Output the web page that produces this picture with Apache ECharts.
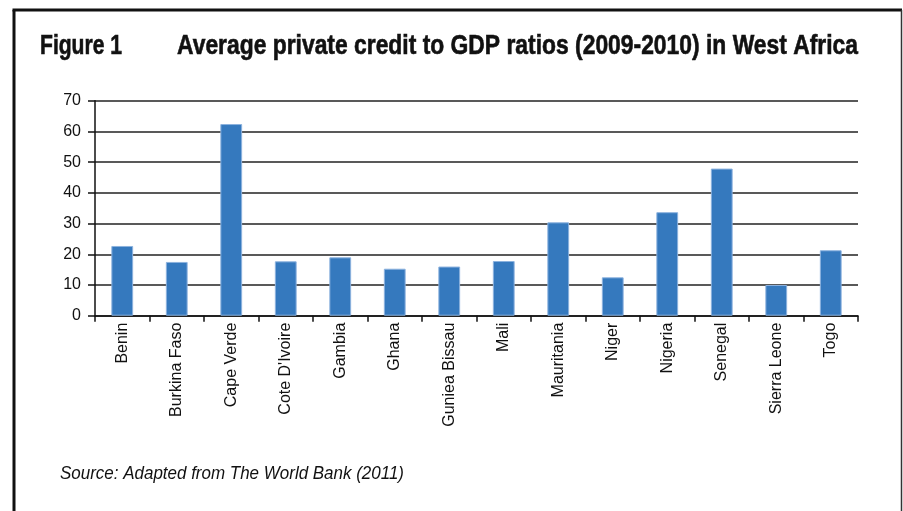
<!DOCTYPE html>
<html>
<head>
<meta charset="utf-8">
<script src="https://cdn.jsdelivr.net/npm/echarts@6/dist/echarts.min.js"></script>
<style>
  html, body { margin: 0; padding: 0; background: #fff; }
  #chart { width: 903px; height: 511px; }
</style>
</head>
<body>
<div id="chart"></div>
<script>
// countries along the x axis
var countries = ["Benin", "Burkina Faso", "Cape Verde", "Cote D'Ivoire", "Gambia", "Ghana",
  "Guniea Bissau", "Mali", "Mauritania", "Niger", "Nigeria", "Senegal", "Sierra Leone", "Togo"];
// private credit to GDP (%)
var creditRatio = [22.7, 17.5, 62.4, 17.7, 19.0, 15.3, 16.0, 17.8, 30.4, 12.5, 33.7, 47.9, 10.0, 21.3];
var yTicks = [0, 10, 20, 30, 40, 50, 60, 70];

var figLabel = "Figure 1";
var figTitle = "Average private credit to GDP ratios (2009-2010) in West Africa";
var sourceNote = "Source: Adapted from The World Bank (2011)";

// the original uses a condensed face; squeeze Liberation Sans to the same width
var ctx = document.createElement("canvas").getContext("2d");
function squeeze(text, font, target) {
  ctx.font = font;
  return target / ctx.measureText(text).width;
}
var titleFont = "bold 27px 'Liberation Sans'";
var noteFont = "italic 18px 'Liberation Sans'";

function condensedText(text, font, x, y, width, stroke) {
  return {
    type: "text",
    x: x,
    y: y,
    scaleX: squeeze(text, font, width),
    style: {
      text: text,
      font: font,
      fill: "#111",
      stroke: stroke ? "#111" : null,
      lineWidth: stroke || 0,
      textAlign: "left",
      textVerticalAlign: "middle",
    },
  };
}

var chart = echarts.init(document.getElementById("chart"));

var option = {
  backgroundColor: "#fff",
  animation: false,
  grid: {
    left: 95,
    right: 45,
    top: 100.7,
    bottom: 195.3,
    containLabel: false,
  },
  xAxis: {
    type: "category",
    data: countries,
    axisLine: {
      show: true,
      lineStyle: { color: "#111", width: 1.5 },
    },
    axisTick: {
      show: true,
      length: 6,
      lineStyle: { color: "#111", width: 1.5 },
    },
    axisLabel: {
      interval: 0,
      rotate: 90,
      margin: 7,
      fontFamily: "Liberation Sans, Arial, sans-serif",
      fontSize: 16,
      color: "#111",
    },
  },
  yAxis: {
    type: "value",
    min: yTicks[0],
    max: yTicks[yTicks.length - 1],
    interval: 10,
    axisLine: {
      show: true,
      lineStyle: { color: "#111", width: 1.5 },
    },
    axisTick: {
      show: true,
      length: 7,
      lineStyle: { color: "#111", width: 1.5 },
    },
    axisLabel: {
      margin: 14,
      fontFamily: "Liberation Sans, Arial, sans-serif",
      fontSize: 16,
      color: "#111",
    },
    splitLine: {
      show: true,
      lineStyle: { color: "#222", width: 1.5 },
    },
  },
  series: [
    {
      type: "bar",
      data: creditRatio,
      barWidth: "40%",
      itemStyle: {
        color: "#3579be",
        borderColor: "#8cb2de",
        borderWidth: 1,
      },
    },
  ],
  graphic: [
    condensedText(figLabel, titleFont, 40, 46.5, 82, 0.6),
    condensedText(figTitle, titleFont, 177, 46.5, 681, 0.6),
    condensedText(sourceNote, noteFont, 60, 474, 344, 0),
    // frame around the figure
    { type: "line", shape: { x1: 14, y1: 10, x2: 14, y2: 520 }, style: { stroke: "#111", lineWidth: 3 } },
    { type: "line", shape: { x1: 12.5, y1: 10, x2: 902, y2: 10 }, style: { stroke: "#111", lineWidth: 3 } },
    { type: "line", shape: { x1: 901.5, y1: 10, x2: 901.5, y2: 520 }, style: { stroke: "#333", lineWidth: 1.5 } },
  ],
};

chart.setOption(option);
</script>
</body>
</html>
